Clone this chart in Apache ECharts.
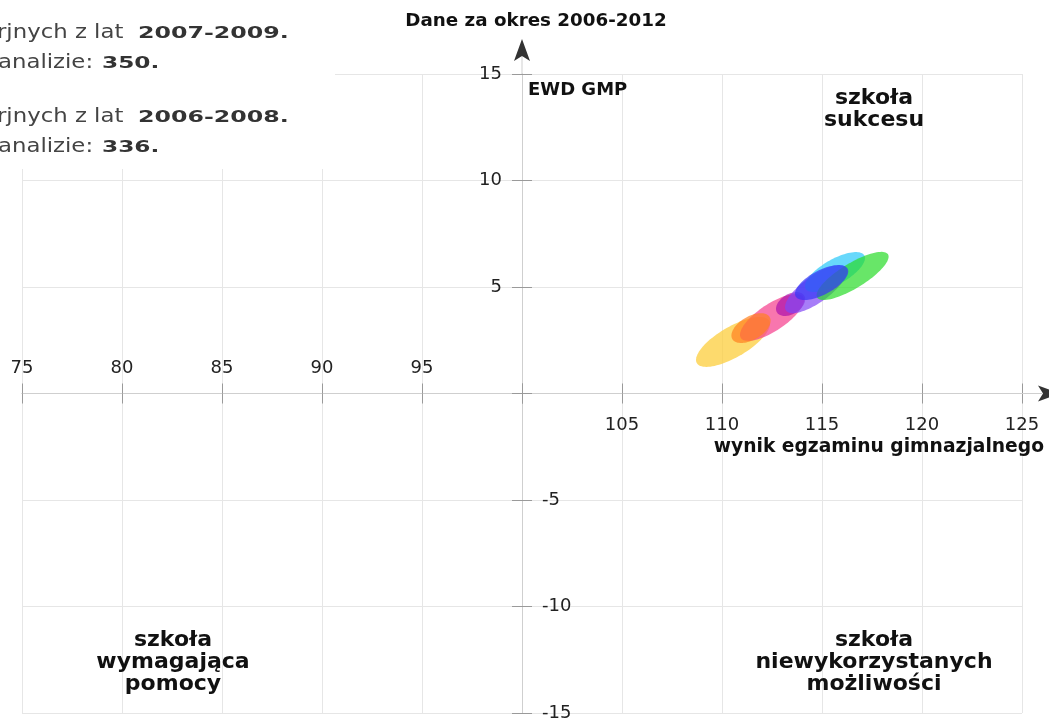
<!DOCTYPE html>
<html>
<head>
<meta charset="utf-8">
<script src="https://cdn.jsdelivr.net/npm/echarts@6/dist/echarts.min.js"></script>
<style>
html,body{margin:0;padding:0;background:#fff;}
#chart{width:1049px;height:718px;}
</style>
</head>
<body>
<div id="chart"></div>
<script>
// ---- data ----
const xTicks = [75, 80, 85, 90, 95, 100, 105, 110, 115, 120, 125];
const yTicks = [-15, -10, -5, 0, 5, 10, 15];
const X_ORIGIN = 100; // the vertical axis crosses the horizontal one at x = 100
const Y_ORIGIN = 0;
// confidence ellipses: centre, half-spread along x / y, correlation
const centerX     = [110.55, 112.5, 111.45, 113.43, 114.7, 115.65, 116.53, 114.98];
const centerY     = [2.42,   3.57,  3.07,   4.20,   4.9,   5.70,   5.52,   5.21];
const spreadX     = [1.85,   1.6,   0.98,   0.73,   1.55,  1.5,    1.8,    1.33];
const spreadY     = [1.17,   1.10,  0.70,   0.56,   1.13,  0.94,   1.13,   0.82];
const correlation = [0.72,   0.74,  0.5,    0.4,    0.75,  0.7,    0.8,    0.64];
const ellipseColors = [
  'rgba(252,206,60,0.75)',   // yellow
  'rgba(245,60,140,0.7)',    // pink
  'rgba(255,128,32,0.7)',    // orange
  'rgba(160,0,170,0.6)',     // magenta
  'rgba(130,70,245,0.7)',    // violet
  'rgba(40,200,250,0.7)',    // cyan
  'rgba(40,220,40,0.7)',     // green
  'rgba(55,55,245,0.72)'     // blue
];
const titleText = 'Dane za okres 2006-2012';
const yName = 'EWD GMP';
const xName = 'wynik egzaminu gimnazjalnego';

const xMin = xTicks[0], xMax = xTicks[xTicks.length - 1];
const yMin = yTicks[0], yMax = yTicks[yTicks.length - 1];

const ellipseData = centerX.map((cx, i) => [cx, centerY[i], spreadX[i], spreadY[i], correlation[i]]);

const chart = echarts.init(document.getElementById('chart'));
const FONT = 'DejaVu Sans';
const AX_COLOR = '#cfcfcf', TICK_COLOR = '#9a9a9a', SPLIT_COLOR = '#e6e6e6';

// plot area
const L = 22, R = 1022, T = 74, B = 713;
const midX = L + (R - L) * (X_ORIGIN - xMin) / (xMax - xMin);
const midY = T + (B - T) * (yMax - Y_ORIGIN) / (yMax - yMin);

// quadrants: 0 TL, 1 TR, 2 BR, 3 BL
const quads = [
  {xr: [xMin, X_ORIGIN], yr: [Y_ORIGIN, yMax], left: L, top: T, w: midX - L, h: midY - T},
  {xr: [X_ORIGIN, xMax], yr: [Y_ORIGIN, yMax], left: midX, top: T, w: R - midX, h: midY - T},
  {xr: [X_ORIGIN, xMax], yr: [yMin, Y_ORIGIN], left: midX, top: midY, w: R - midX, h: B - midY},
  {xr: [xMin, X_ORIGIN], yr: [yMin, Y_ORIGIN], left: L, top: midY, w: midX - L, h: B - midY}
];
const grid = quads.map(q => ({left: q.left, top: q.top, width: q.w, height: q.h, containLabel: false, outerBoundsMode: 'none'}));

const lbl = (extra) => Object.assign({color: '#222', fontFamily: FONT, fontSize: 18, showMinLabel: true, showMaxLabel: true}, extra);
const noLbl = {show: false};

// x axes: TL bottom (labels above), TR bottom (no labels), BR top (labels below), BL top (no labels)
const xAxis = quads.map((q, i) => {
  const pos = (i < 2) ? 'bottom' : 'top';
  let axisLabel = noLbl;
  if (i === 0) axisLabel = lbl({inside: true, margin: 16, formatter: v => v === X_ORIGIN ? '' : String(v)});
  if (i === 2) axisLabel = lbl({inside: true, margin: 23, formatter: v => v === X_ORIGIN ? '' : String(v)});
  return {
    type: 'value', gridIndex: i, position: pos, min: q.xr[0], max: q.xr[1], interval: 5,
    axisLine: {show: true, onZero: false, lineStyle: {color: AX_COLOR, width: 1}},
    axisTick: {show: true, inside: false, length: 10, lineStyle: {color: TICK_COLOR}},
    axisLabel: axisLabel,
    splitLine: {show: true, lineStyle: {color: SPLIT_COLOR}}
  };
});
// y axes: TL right, TR left (labels left), BR left (labels right), BL right
const yAxis = quads.map((q, i) => {
  const pos = (i === 1 || i === 2) ? 'left' : 'right';
  let axisLabel = noLbl;
  if (i === 1) axisLabel = lbl({inside: false, margin: 20, formatter: v => v === Y_ORIGIN ? '' : String(v)});
  if (i === 2) axisLabel = lbl({inside: true, margin: 20, formatter: v => v === Y_ORIGIN ? '' : String(v)});
  return {
    type: 'value', gridIndex: i, position: pos, min: q.yr[0], max: q.yr[1], interval: 5,
    axisLine: {show: true, onZero: false, lineStyle: {color: AX_COLOR, width: 1}},
    axisTick: {show: true, inside: false, length: 10, lineStyle: {color: TICK_COLOR}},
    axisLabel: axisLabel,
    splitLine: {show: true, lineStyle: {color: SPLIT_COLOR}}
  };
});

const option = {
  animation: false,
  backgroundColor: '#fff',
  grid: grid,
  xAxis: xAxis,
  yAxis: yAxis,
  series: [{
    type: 'custom',
    xAxisIndex: 1, yAxisIndex: 1,
    clip: false,
    data: ellipseData,
    encode: {x: 0, y: 1},
    renderItem: function (params, api) {
      const cx = api.value(0), cy = api.value(1), sx = api.value(2), sy = api.value(3), r = api.value(4);
      const q = Math.sqrt(1 - r * r);
      const pts = [];
      const N = 90;
      for (let k = 0; k < N; k++) {
        const t = k / N * Math.PI * 2;
        pts.push(api.coord([cx + sx * Math.cos(t), cy + sy * (r * Math.cos(t) + q * Math.sin(t))]));
      }
      return {type: 'polygon', shape: {points: pts}, style: {fill: ellipseColors[params.dataIndex], stroke: null}};
    }
  }]
};
chart.setOption(option);

// decorations: arrows, titles, overlay notes, quadrant labels
const pRight = chart.convertToPixel({xAxisIndex: 1, yAxisIndex: 1}, [xMax, Y_ORIGIN]);
const pTop = chart.convertToPixel({xAxisIndex: 1, yAxisIndex: 1}, [X_ORIGIN, yMax]);
const ax = pRight[0], ay = pRight[1];
const tx = pTop[0], ty = pTop[1];

function quadLabel(text, x, y) {
  return {type: 'text', x: x, y: y, z: 20, style: {text: text, fill: '#111', font: 'bold 22px "DejaVu Sans"', textAlign: 'center', textVerticalAlign: 'middle', lineHeight: 22}};
}
function note(text, x, y, font, color, sx) {
  return {type: 'text', x: x, y: y, z: 31, scaleX: sx, scaleY: 1, originX: 0, originY: 0,
    style: {text: text, fill: color, font: font, textAlign: 'left', textVerticalAlign: 'middle'}};
}

chart.setOption({
  graphic: [
    // axis stems and arrowheads
    {type: 'line', z: 5, shape: {x1: ax, y1: ay, x2: ax + 20, y2: ay}, style: {stroke: AX_COLOR, lineWidth: 1}},
    {type: 'polygon', z: 6, shape: {points: [[ax + 38, ay], [ax + 16, ay - 8], [ax + 21, ay], [ax + 16, ay + 8]]}, style: {fill: '#333'}},
    {type: 'line', z: 5, shape: {x1: tx, y1: ty, x2: tx, y2: ty - 18}, style: {stroke: AX_COLOR, lineWidth: 1}},
    {type: 'polygon', z: 6, shape: {points: [[tx, ty - 35], [tx - 8, ty - 13], [tx, ty - 18], [tx + 8, ty - 13]]}, style: {fill: '#333'}},
    // titles
    {type: 'text', x: 536, y: 21, z: 20, style: {text: titleText, fill: '#111', font: 'bold 18.3px "DejaVu Sans"', textAlign: 'center', textVerticalAlign: 'middle'}},
    {type: 'text', x: 528, y: 90, z: 20, style: {text: yName, fill: '#111', font: 'bold 18px "DejaVu Sans"', textAlign: 'left', textVerticalAlign: 'middle'}},
    {type: 'text', x: 1044, y: 447, z: 20, style: {text: xName, fill: '#111', font: 'bold 18.7px "DejaVu Sans"', textAlign: 'right', textVerticalAlign: 'middle'}},
    // quadrant labels
    quadLabel('szkoła\nsukcesu', 874, 109),
    quadLabel('szkoła\nwymagająca\npomocy', 173, 662),
    quadLabel('szkoła\nniewykorzystanych\nmożliwości', 874, 662),
    // overlay notes (clipped at the left edge)
    {type: 'rect', z: 30, shape: {x: 0, y: 0, width: 335, height: 169}, style: {fill: '#fff'}},
    note('rjnych z lat ', -3, 33, '20px "DejaVu Sans"', '#444', 1.14),
    note('2007-2009.', 138, 34, 'bold 15px "DejaVu Sans"', '#333', 1.58),
    note('analizie: ', -2, 63, '20px "DejaVu Sans"', '#444', 1.14),
    note('350.', 102, 64, 'bold 15px "DejaVu Sans"', '#333', 1.55),
    note('rjnych z lat ', -3, 117, '20px "DejaVu Sans"', '#444', 1.14),
    note('2006-2008.', 138, 118, 'bold 15px "DejaVu Sans"', '#333', 1.58),
    note('analizie: ', -2, 147, '20px "DejaVu Sans"', '#444', 1.14),
    note('336.', 102, 148, 'bold 15px "DejaVu Sans"', '#333', 1.55)
  ]
});
</script>
</body>
</html>
